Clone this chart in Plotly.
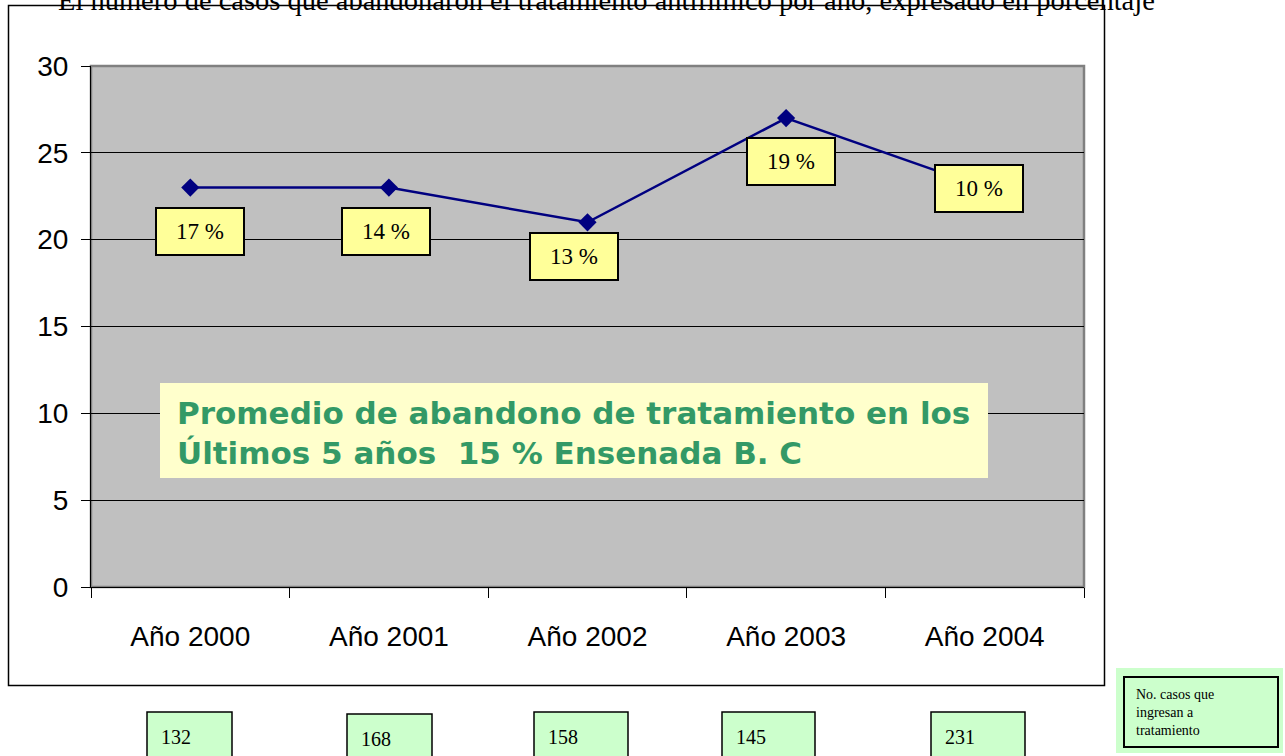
import plotly.graph_objects as go

# ---- data ----
years = ["Año 2000", "Año 2001", "Año 2002", "Año 2003", "Año 2004"]
abandon_values = [23, 23, 21, 27, 23]
pct_labels = ["17 %", "14 %", "13 %", "19 %", "10 %"]
cases_in = [132, 168, 158, 145, 231]
y_ticks = [0, 5, 10, 15, 20, 25, 30]

title_text = "El número de casos que abandonaron el tratamiento antifímico por año, expresado en porcentaje"
note_text = "Promedio de abandono de tratamiento en los<br>Últimos 5 años  15 % Ensenada B. C"
legend_text = "No. casos que<br>ingresan a<br>tratamiento"

# ---- layout geometry (page pixels) ----
W, H = 1285, 756
L, R, T, B = 91, 1084, 66, 587


def px(x):
    return (x - L) / (R - L)


def py(y):
    return (B - y) / (B - T)


# label offsets relative to their point (pixels, plotly convention: +y up)
label_shift = [(10, -44), (-3, -44), (-14, -34), (5, -43), (-6, -1)]
# bottom green boxes (left, right, top) in page pixels
case_boxes = [(147, 232, 712), (347, 432, 714), (534, 628, 712), (722, 815, 712), (931, 1025, 712)]

fig = go.Figure()
fig.add_trace(go.Scatter(
    x=years, y=abandon_values, mode="lines+markers",
    line=dict(color="#000080", width=2.5),
    marker=dict(symbol="diamond", size=14, color="#000080"),
    hoverinfo="skip", showlegend=False,
))

shapes = []
annotations = []

# outer chart border
shapes.append(dict(type="rect", xref="paper", yref="paper",
                   x0=px(8.5), x1=px(1104.5), y0=py(685.5), y1=py(5.5),
                   line=dict(color="black", width=1.5), fillcolor="rgba(0,0,0,0)", layer="below"))
# plot area gray border
shapes.append(dict(type="rect", xref="paper", yref="paper",
                   x0=0, x1=1, y0=0, y1=1,
                   line=dict(color="#808080", width=2.5), fillcolor="rgba(0,0,0,0)", layer="below"))

# note box
shapes.append(dict(type="rect", xref="paper", yref="paper",
                   x0=px(160), x1=px(988), y0=py(478), y1=py(383),
                   line=dict(width=0), fillcolor="#FFFFCC", layer="above"))
annotations.append(dict(xref="paper", yref="paper", x=px(175), y=py(433),
                        xanchor="left", yanchor="middle", align="left",
                        text="<b>" + note_text + "</b>", showarrow=False,
                        font=dict(family="DejaVu Sans", size=31, color="#339966")))

# percentage labels
for i, (lab, (dx, dy)) in enumerate(zip(pct_labels, label_shift)):
    annotations.append(dict(x=years[i], y=abandon_values[i], xref="x", yref="y",
                            text=lab, showarrow=False, xshift=dx, yshift=dy,
                            xanchor="center", yanchor="middle",
                            width=86, height=45, bgcolor="#FFFF99",
                            bordercolor="black", borderwidth=2, borderpad=0,
                            font=dict(family="Liberation Serif, Times New Roman", size=23, color="black")))

# bottom case boxes
for val, (x0, x1, y0) in zip(cases_in, case_boxes):
    shapes.append(dict(type="rect", xref="paper", yref="paper",
                       x0=px(x0), x1=px(x1), y0=py(775), y1=py(y0),
                       line=dict(color="black", width=1.5), fillcolor="#CCFFCC"))
    annotations.append(dict(xref="paper", yref="paper", x=px(x0 + 12), y=py(y0 + 25),
                            xanchor="left", yanchor="middle", text=str(val), showarrow=False,
                            font=dict(family="Liberation Serif, Times New Roman", size=20, color="black")))

# legend-like box bottom right
shapes.append(dict(type="rect", xref="paper", yref="paper",
                   x0=px(1116), x1=px(1283), y0=py(753), y1=py(668),
                   line=dict(width=0), fillcolor="#CCFFCC"))
shapes.append(dict(type="rect", xref="paper", yref="paper",
                   x0=px(1124), x1=px(1278), y0=py(747), y1=py(677),
                   line=dict(color="black", width=2), fillcolor="rgba(0,0,0,0)"))
annotations.append(dict(xref="paper", yref="paper", x=px(1134), y=py(712),
                        xanchor="left", yanchor="middle", align="left",
                        text=legend_text, showarrow=False,
                        font=dict(family="Liberation Serif, Times New Roman", size=14, color="black")))

# title (clipped at top, as in the reference)
annotations.append(dict(xref="paper", yref="paper", x=px(606), y=py(0.5),
                        xanchor="center", yanchor="middle", text=title_text, showarrow=False,
                        font=dict(family="Liberation Serif, Times New Roman", size=28.5, color="black")))

axis_font = dict(family="Liberation Sans, Arial", size=28, color="black")

fig.update_layout(
    width=W, height=H,
    margin=dict(l=L, r=W - R, t=T, b=H - B, pad=0),
    paper_bgcolor="white", plot_bgcolor="#C0C0C0",
    shapes=shapes, annotations=annotations,
    showlegend=False,
)
fig.update_xaxes(
    type="category", range=[-0.5, 4.5], tickson="boundaries",
    ticks="outside", ticklen=10, tickwidth=1, tickcolor="black",
    showline=True, linecolor="black", linewidth=1, showgrid=False,
    tickfont=axis_font, ticklabelstandoff=24, zeroline=False,
)
fig.update_yaxes(
    range=[0, 30], tickvals=y_ticks,
    ticks="outside", ticklen=9, tickwidth=1, tickcolor="black",
    showline=True, linecolor="black", linewidth=1,
    showgrid=True, gridcolor="black", gridwidth=1, zeroline=False,
    tickfont=axis_font, ticklabelstandoff=7,
)

fig.write_html("out.html", config={"displayModeBar": False},
               post_script="document.body.style.margin='0';")
